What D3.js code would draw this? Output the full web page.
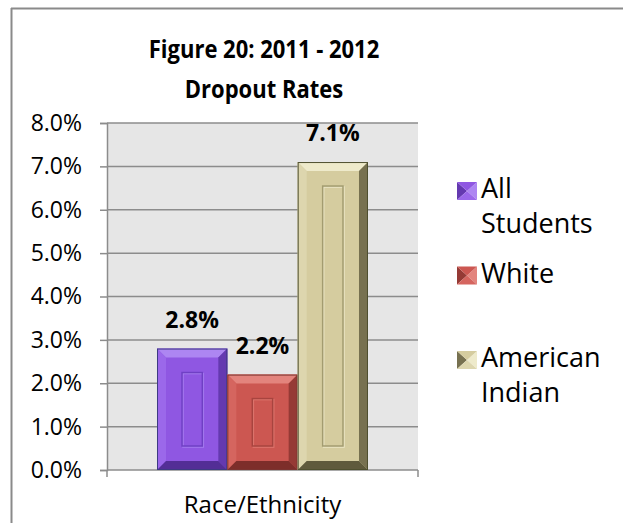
<!DOCTYPE html>
<html>
<head>
<meta charset="utf-8">
<script src="https://cdn.jsdelivr.net/npm/d3@7"></script>
<style>
  body { margin: 0; background: #fff; }
  svg { display: block; }
  text { font-family: "Open Sans", "Noto Sans", sans-serif; fill: #000; }
</style>
</head>
<body>
<svg id="chart" width="623" height="523"></svg>
<script>
// ---- data ----
const categories = ["Race/Ethnicity"];
const seriesNames = ["All Students", "White", "American Indian"];
const legendLines = [["All", "Students"], ["White"], ["American", "Indian"]];
const values = [2.8, 2.2, 7.1];           // dropout rate, %
const yTicks = [0, 1, 2, 3, 4, 5, 6, 7, 8];
const titleLines = ["Figure 20: 2011 - 2012", "Dropout Rates"];

// ---- bevel shading per series ----
const shades = [
  { face: "#8f57e2", top: "#ad86f2", left: "#9b68ea", right: "#6439b0", bottom: "#532e96", edge: "#3d3a82", groove: "#6f40c4", shine: "#a57cf0" },
  { face: "#cc5751", top: "#e3847d", left: "#d5655f", right: "#953a35", bottom: "#7d2e2a", edge: "#7a3430", groove: "#a8443f", shine: "#e07870" },
  { face: "#d5cc9f", top: "#eeeacb", left: "#ddd6ae", right: "#777150", bottom: "#5f5a3c", edge: "#4f5030", groove: "#a39c70", shine: "#ebe6c6" }
];

const svg = d3.select("#chart");
const W = 623, H = 523;
const plot = { left: 107, right: 418, top: 123, bottom: 470 };

// frame of the chart object
svg.append("line").attr("x1", 11).attr("x2", W).attr("y1", 8.5).attr("y2", 8.5)
  .attr("stroke", "#8a8a8a").attr("stroke-width", 2);
svg.append("line").attr("x1", 11.5).attr("x2", 11.5).attr("y1", 8).attr("y2", H)
  .attr("stroke", "#8a8a8a").attr("stroke-width", 2);

// scales
const y = d3.scaleLinear().domain([0, 8]).range([plot.bottom, plot.top]);
const x0 = d3.scaleBand().domain(categories).range([plot.left, plot.right])
  .paddingInner(0).paddingOuter(0.237);
const x1 = d3.scaleBand().domain(seriesNames).range([0, x0.bandwidth()]).padding(0);

// plot background
svg.append("rect").attr("x", plot.left).attr("y", plot.top)
  .attr("width", plot.right - plot.left).attr("height", plot.bottom - plot.top)
  .attr("fill", "#e6e6e6");

// gridlines
svg.append("g").selectAll("line").data(yTicks.filter(d => d > 0)).join("line")
  .attr("x1", plot.left).attr("x2", plot.right)
  .attr("y1", d => y(d)).attr("y2", d => y(d))
  .attr("stroke", "#8c8c8c").attr("stroke-width", 1.5);

// y axis
const yAxis = svg.append("g").attr("transform", `translate(${plot.left},0)`)
  .call(d3.axisLeft(y).tickValues(yTicks).tickSize(7).tickPadding(18)
    .tickFormat(d => d.toFixed(1) + "%"));
yAxis.select(".domain").attr("stroke", "#8c8c8c").attr("stroke-width", 1.5);
yAxis.selectAll(".tick line").attr("stroke", "#8c8c8c").attr("stroke-width", 1.5);
yAxis.selectAll(".tick text").attr("font-size", 23).attr("fill", "#000")
  .style("font-family", '"Open Sans", sans-serif');

// x axis
const xAxisLine = svg.append("g");
xAxisLine.append("line").attr("x1", plot.left).attr("x2", plot.right)
  .attr("y1", plot.bottom).attr("y2", plot.bottom)
  .attr("stroke", "#8c8c8c").attr("stroke-width", 1.5);
xAxisLine.selectAll("line.edge").data([plot.left, plot.right]).join("line")
  .attr("class", "edge").attr("x1", d => d).attr("x2", d => d)
  .attr("y1", plot.bottom).attr("y2", plot.bottom + 7)
  .attr("stroke", "#8c8c8c").attr("stroke-width", 1.5);
svg.append("g").selectAll("text").data(categories).join("text")
  .attr("x", d => x0(d) + x0.bandwidth() / 2).attr("y", 513)
  .attr("text-anchor", "middle").attr("font-size", 24).text(d => d);

// bevelled bars
const bars = values.map((v, i) => ({
  name: seriesNames[i], value: v, shade: shades[i],
  x: x0(categories[0]) + x1(seriesNames[i]), w: x1.bandwidth(),
  yt: y(v), yb: y(0)
}));

const bevel = 9;
const barG = svg.append("g").selectAll("g").data(bars).join("g");
const pts = a => a.map(p => p.join(",")).join(" ");
barG.append("rect")
  .attr("x", d => d.x).attr("y", d => d.yt).attr("width", d => d.w).attr("height", d => d.yb - d.yt)
  .attr("fill", d => d.shade.face);
barG.append("polygon").attr("fill", d => d.shade.top)
  .attr("points", d => pts([[d.x, d.yt], [d.x + d.w, d.yt], [d.x + d.w - bevel, d.yt + bevel], [d.x + bevel, d.yt + bevel]]));
barG.append("polygon").attr("fill", d => d.shade.left)
  .attr("points", d => pts([[d.x, d.yt], [d.x + bevel, d.yt + bevel], [d.x + bevel, d.yb - bevel], [d.x, d.yb]]));
barG.append("polygon").attr("fill", d => d.shade.right)
  .attr("points", d => pts([[d.x + d.w, d.yt], [d.x + d.w - bevel, d.yt + bevel], [d.x + d.w - bevel, d.yb - bevel], [d.x + d.w, d.yb]]));
barG.append("polygon").attr("fill", d => d.shade.bottom)
  .attr("points", d => pts([[d.x, d.yb], [d.x + bevel, d.yb - bevel], [d.x + d.w - bevel, d.yb - bevel], [d.x + d.w, d.yb]]));
// inner groove
const inset = { h: 25, v: 24 };
barG.append("rect")
  .attr("x", d => d.x + inset.h + 1).attr("y", d => d.yt + inset.v + 1)
  .attr("width", d => d.w - 2 * inset.h).attr("height", d => d.yb - d.yt - 2 * inset.v)
  .attr("fill", "none").attr("stroke", d => d.shade.shine).attr("stroke-width", 1.5);
barG.append("rect")
  .attr("x", d => d.x + inset.h).attr("y", d => d.yt + inset.v)
  .attr("width", d => d.w - 2 * inset.h).attr("height", d => d.yb - d.yt - 2 * inset.v)
  .attr("fill", "none").attr("stroke", d => d.shade.groove).attr("stroke-width", 1.5);
barG.append("rect")
  .attr("x", d => d.x + 0.5).attr("y", d => d.yt + 0.5).attr("width", d => d.w - 1).attr("height", d => d.yb - d.yt - 1)
  .attr("fill", "none").attr("stroke", d => d.shade.edge).attr("stroke-width", 1);

// value labels
svg.append("g").selectAll("text").data(bars).join("text")
  .attr("x", d => d.x + d.w / 2).attr("y", d => d.yt - 21)
  .attr("text-anchor", "middle").attr("font-size", 23).attr("font-weight", 700)
  .text(d => d.value.toFixed(1) + "%");

// title: a condensed bold face, two centred lines
svg.append("g").selectAll("text").data(titleLines).join("text")
  .attr("transform", (d, i) => `translate(264,${58 + i * 40}) scale(0.88,1)`)
  .attr("text-anchor", "middle").attr("font-size", 25).attr("font-weight", 700)
  .text(d => d);

// legend
const legend = svg.append("g").selectAll("g").data(bars).join("g")
  .attr("transform", (d, i) => `translate(457,${198 + i * 84.5})`);
const sq = 20, sqH = 18;
legend.append("polygon").attr("fill", d => d.shade.right)
  .attr("points", pts([[0, -16], [sq / 2, -16 + sqH / 2], [0, -16 + sqH]]));
legend.append("polygon").attr("fill", d => d.shade.top)
  .attr("points", pts([[sq, -16], [sq / 2, -16 + sqH / 2], [sq, -16 + sqH]]));
legend.append("polygon").attr("fill", d => d.shade.face)
  .attr("points", pts([[0, -16], [sq, -16], [sq / 2, -16 + sqH / 2]]));
legend.append("polygon").attr("fill", d => d.shade.left)
  .attr("points", pts([[0, -16 + sqH], [sq, -16 + sqH], [sq / 2, -16 + sqH / 2]]));
legend.append("text").attr("x", 24).attr("font-size", 27)
  .selectAll("tspan").data((d, i) => legendLines[i]).join("tspan")
  .attr("x", 24).attr("y", (d, j) => j * 35).text(d => d);
</script>
</body>
</html>
